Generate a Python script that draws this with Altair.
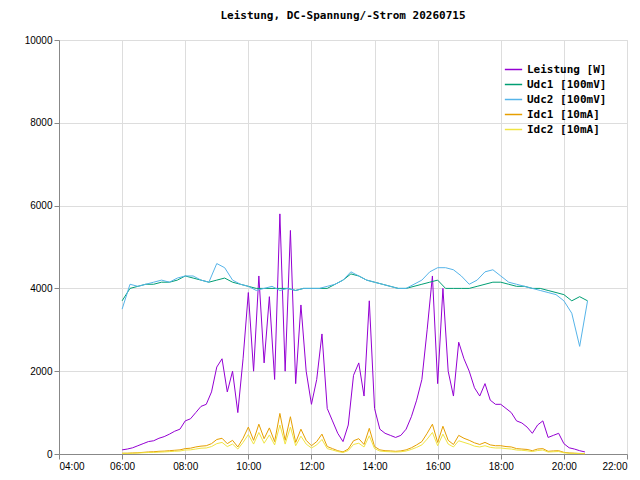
import altair as alt
import pandas as pd

power = [100,120,150,200,250,300,320,380,420,480,550,600,800,850,1000,1150,1200,1500,2100,2300,1500,2000,1000,2300,
         3900,2000,4300,2200,3800,1800,5800,2000,5400,1700,3600,2000,1200,1800,2900,1100,800,500,300,700,1900,2200,1400,3700,
         1100,600,500,450,400,450,600,900,1300,1800,3000,4300,1700,4000,2000,1400,2700,2300,2000,1600,1400,1700,1300,1200,
         1200,1100,1000,800,750,650,500,700,800,400,450,500,250,150,120,80,50]
idc1 = [20,20,25,30,40,50,55,65,70,80,90,100,130,140,170,190,200,250,350,380,250,330,170,380,
        650,330,720,370,630,300,980,330,900,280,600,330,200,300,480,180,130,80,50,120,320,370,230,620,
        180,100,80,75,65,75,100,150,220,300,500,720,280,670,330,230,450,380,330,270,230,280,220,200,
        200,180,170,130,120,110,80,120,130,65,75,80,40,25,20,13,8]
idc2 = [12,14,18,24,30,36,38,45,50,58,66,72,96,100,120,140,145,180,250,280,180,240,120,280,
        470,240,520,260,460,220,700,240,650,200,430,240,145,220,350,130,96,60,36,84,230,260,170,440,
        130,72,60,54,48,54,72,110,160,220,360,520,200,480,240,170,320,280,240,190,170,200,160,145,
        145,130,120,96,90,78,60,84,96,48,54,60,30,18,14,10,6]
udc1 = [3700,4000,4050,4100,4100,4150,4150,4200,4300,4250,4200,4150,4200,4250,4150,4100,4050,4000,4000,4000,
        4000,4000,3950,4000,4000,4000,4000,4100,4200,4350,4300,4200,4150,4100,4050,4000,4000,4050,4100,4150,
        4200,4000,4000,4000,4000,4050,4100,4150,4150,4100,4050,4050,4000,4000,3950,3900,3850,3700,3800,3700]
udc2 = [3500,4100,4050,4100,4150,4200,4150,4250,4300,4300,4200,4150,4600,4500,4200,4100,4050,3950,4000,4050,
        3950,4000,3950,4000,4000,4000,4050,4100,4200,4400,4300,4200,4150,4100,4050,4000,4000,4100,4200,4400,
        4500,4500,4450,4300,4100,4200,4400,4450,4300,4150,4100,4050,4000,3950,3900,3850,3700,3400,2600,3700]

names = ["Leistung [W]", "Udc1 [100mV]", "Udc2 [100mV]", "Idc1 [10mA]", "Idc2 [10mA]"]
colors = ["#9400d3", "#009e73", "#56b4e9", "#e69f00", "#f0e442"]

rows = []
for name, vals, step in [(names[0], power, 10), (names[1], udc1, 15), (names[2], udc2, 15),
                         (names[3], idc1, 10), (names[4], idc2, 10)]:
    for i, v in enumerate(vals):
        rows.append({"t": 6 + i * step / 60, "v": v, "s": name})
df = pd.DataFrame(rows)

F = "DejaVu Sans Mono"
chart = alt.Chart(df).mark_line(strokeWidth=1, interpolate="linear").encode(
    x=alt.X("t:Q", scale=alt.Scale(domain=[4, 22], nice=False),
            axis=alt.Axis(title=None, values=list(range(4, 23, 2)),
                          labelExpr="(datum.value<10?'0':'')+datum.value+':00'")),
    y=alt.Y("v:Q", scale=alt.Scale(domain=[0, 10000], nice=False),
            axis=alt.Axis(title=None, values=list(range(0, 10001, 2000)), format="d")),
    color=alt.Color("s:N", scale=alt.Scale(domain=names, range=colors), sort=names,
                    legend=alt.Legend(title=None, orient="top-right", symbolType="stroke",
                                      symbolSize=300, labelFont=F, labelFontSize=11,
                                      labelFontWeight="bold", padding=2, rowPadding=0)),
    order="s:N",
).properties(
    width=568, height=414,
    padding={"left": 51, "top": 32, "right": 5, "bottom": 22},
    title=alt.TitleParams("Leistung, DC-Spannung/-Strom 20260715", font=F, fontSize=11,
                          fontWeight="bold", offset=14),
).configure_axis(
    labelFont=F, labelFontSize=11, labelFontWeight="bold", labelColor="black",
    grid=True, gridColor="#777", gridDash=[1, 2], domainColor="black", tickColor="black",
    tickSize=5, labelPadding=3,
).configure_view(stroke="black").configure(autosize="none")

chart.save("out.html", embed_options={"renderer": "svg", "actions": False})
